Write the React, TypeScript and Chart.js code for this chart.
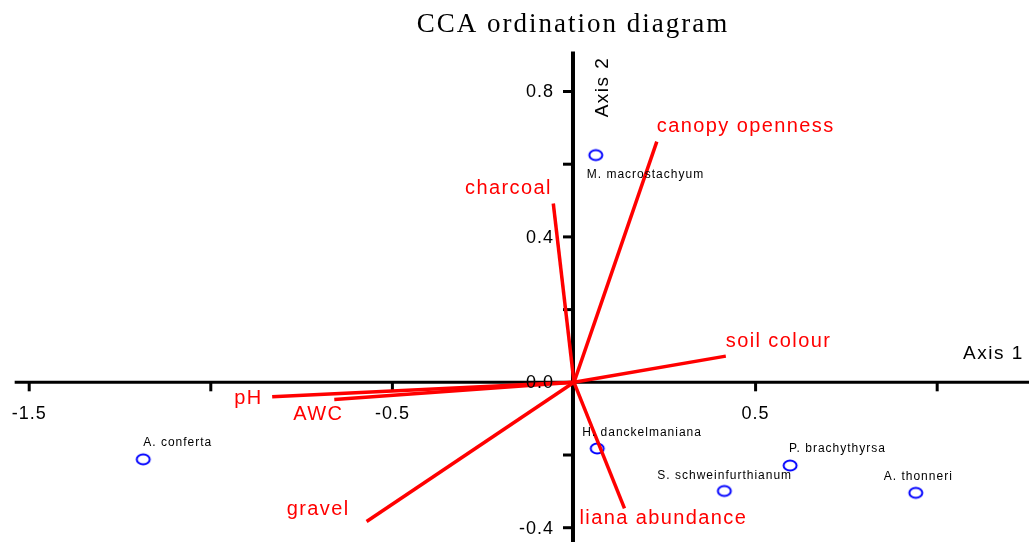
import React, { useEffect, useRef } from "react";
import { Chart, registerables } from "chart.js";

Chart.register(...registerables);

// ---- data ----
const speciesNames = [
  "A. conferta",
  "M. macrostachyum",
  "H. danckelmaniana",
  "S. schweinfurthianum",
  "P. brachythyrsa",
  "A. thonneri",
];
const speciesAxis1 = [-1.186, 0.06, 0.064, 0.414, 0.595, 0.941];
const speciesAxis2 = [-0.212, 0.625, -0.182, -0.299, -0.229, -0.304];

const envNames = ["canopy openness", "charcoal", "soil colour", "liana abundance", "gravel", "pH", "AWC"];
const envAxis1 = [0.228, -0.057, 0.418, 0.139, -0.571, -0.831, -0.66];
const envAxis2 = [0.662, 0.492, 0.072, -0.347, -0.383, -0.04, -0.047];

const xTickValues = [-1.5, -1.0, -0.5, 0.5, 1.0];
const xTickLabels = ["-1.5", "", "-0.5", "0.5", ""];
const yTickValues = [0.8, 0.6, 0.4, 0.2, 0.0, -0.2, -0.4];
const yTickLabels = ["0.8", "", "0.4", "", "0.0", "", "-0.4"];

const titleText = "CCA ordination diagram";
const axis1Title = "Axis 1";
const axis2Title = "Axis 2";

// ---- layout / style (pixel offsets, not data) ----
const X_MIN = -1.5804;
const X_MAX = 1.2528;
const Y_MIN = -0.4393;
const Y_MAX = 1.0517;
const X_AXIS_START = -1.54;
const Y_AXIS_TOP = 0.91;

const speciesLabelOffsets: [number, number][] = [
  [0, -17],
  [-9, 20],
  [-15, -15.5],
  [-67, -15.5],
  [-1, -17],
  [-32, -16],
];
const envLabelOffsets: [number, number, CanvasTextAlign][] = [
  [0, -9.5, "left"],
  [-1.5, -9, "right"],
  [0, -9.5, "left"],
  [-45, 16, "left"],
  [-17, -6.5, "right"],
  [-9.5, 7.5, "right"],
  [9, 21, "right"],
];

function makeEllipse(): HTMLCanvasElement {
  const c = document.createElement("canvas");
  c.width = 18;
  c.height = 15;
  const g = c.getContext("2d")!;
  g.strokeStyle = "#0000ff";
  g.lineWidth = 2;
  g.beginPath();
  g.ellipse(9, 7.5, 6.5, 5, 0, 0, Math.PI * 2);
  g.stroke();
  return c;
}

const axesPlugin = {
  id: "ccaAxes",
  beforeDatasetsDraw(chart: any) {
    const ctx: CanvasRenderingContext2D = chart.ctx;
    const xs = chart.scales.x;
    const ys = chart.scales.y;
    const ox = xs.getPixelForValue(0) - 1;
    const oy = ys.getPixelForValue(0);
    ctx.save();
    ctx.strokeStyle = "#000";
    ctx.fillStyle = "#000";
    ctx.lineWidth = 3;
    ctx.beginPath();
    ctx.moveTo(xs.getPixelForValue(X_AXIS_START), oy);
    ctx.lineTo(chart.width, oy);
    ctx.stroke();
    xTickValues.forEach((v) => {
      const px = xs.getPixelForValue(v);
      ctx.beginPath();
      ctx.moveTo(px, oy);
      ctx.lineTo(px, oy + 9);
      ctx.stroke();
    });
    ctx.lineWidth = 4;
    ctx.beginPath();
    ctx.moveTo(ox, ys.getPixelForValue(Y_AXIS_TOP));
    ctx.lineTo(ox, chart.height);
    ctx.stroke();
    ctx.lineWidth = 3;
    yTickValues.forEach((v) => {
      if (v === 0) return;
      const py = ys.getPixelForValue(v);
      ctx.beginPath();
      ctx.moveTo(ox, py);
      ctx.lineTo(ox - 10, py);
      ctx.stroke();
    });
    ctx.restore();
  },
  afterDatasetsDraw(chart: any) {
    const ctx: CanvasRenderingContext2D = chart.ctx;
    const xs = chart.scales.x;
    const ys = chart.scales.y;
    const ox = xs.getPixelForValue(0) - 1;
    const oy = ys.getPixelForValue(0);
    ctx.save();
    const ls = (v: string) => {
      (ctx as any).letterSpacing = v;
    };
    ctx.fillStyle = "#000";
    ctx.font = '18px "Liberation Sans", Arial, sans-serif';
    ls("1px");
    ctx.textBaseline = "middle";
    ctx.textAlign = "center";
    xTickValues.forEach((v, i) => {
      if (!xTickLabels[i]) return;
      ctx.fillText(xTickLabels[i], xs.getPixelForValue(v), oy + 32);
    });
    ctx.textAlign = "right";
    yTickValues.forEach((v, i) => {
      if (!yTickLabels[i]) return;
      ctx.fillText(yTickLabels[i], ox - 19, ys.getPixelForValue(v) + 1);
    });
    ctx.font = '19px "Liberation Sans", Arial, sans-serif';
    ls("1.5px");
    ctx.textBaseline = "alphabetic";
    ctx.textAlign = "left";
    ctx.fillText(axis1Title, 963, oy - 23);
    ctx.save();
    ctx.translate(ox + 35, ys.getPixelForValue(0.729));
    ctx.rotate(-Math.PI / 2);
    ctx.fillText(axis2Title, 0, 0);
    ctx.restore();
    ctx.font = '12px "Liberation Sans", Arial, sans-serif';
    ls("1px");
    ctx.textBaseline = "middle";
    ctx.textAlign = "left";
    speciesNames.forEach((n, i) => {
      const px = xs.getPixelForValue(speciesAxis1[i]);
      const py = ys.getPixelForValue(speciesAxis2[i]);
      const [dx, dy] = speciesLabelOffsets[i];
      ctx.fillText(n, px + dx, py + dy);
    });
    ctx.fillStyle = "#ff0000";
    ctx.font = '20px "Liberation Sans", Arial, sans-serif';
    ls("1.4px");
    ctx.textBaseline = "alphabetic";
    envNames.forEach((n, i) => {
      const px = xs.getPixelForValue(envAxis1[i]);
      const py = ys.getPixelForValue(envAxis2[i]);
      const [dx, dy, al] = envLabelOffsets[i];
      ctx.textAlign = al;
      ctx.fillText(n, px + dx, py + dy);
    });
    ctx.fillStyle = "#000";
    ctx.font = '27px "Liberation Serif", "Times New Roman", serif';
    ls("2px");
    ctx.textAlign = "center";
    ctx.fillText(titleText, 573, 32);
    ctx.restore();
  },
};

export default function App() {
  const ref = useRef<HTMLCanvasElement | null>(null);
  useEffect(() => {
    if (!ref.current) return;
    const ellipse = makeEllipse();
    const envDatasets = envNames.map((n, i) => ({
      label: n,
      data: [
        { x: 0, y: 0 },
        { x: envAxis1[i], y: envAxis2[i] },
      ],
      showLine: true,
      borderColor: "#ff0000",
      backgroundColor: "#ff0000",
      borderWidth: 3.5,
      pointRadius: 0,
      pointHoverRadius: 0,
      clip: false as any,
    }));
    const chart = new Chart(ref.current, {
      type: "scatter",
      data: {
        datasets: [
          ...envDatasets,
          {
            label: "species",
            data: speciesNames.map((_, i) => ({ x: speciesAxis1[i], y: speciesAxis2[i] })),
            pointStyle: ellipse as any,
            pointRadius: 7,
            clip: false as any,
          } as any,
        ],
      },
      options: {
        animation: false,
        responsive: false,
        maintainAspectRatio: false,
        layout: { padding: 0, autoPadding: false } as any,
        plugins: { legend: { display: false }, tooltip: { enabled: false }, title: { display: false } },
        scales: {
          x: { type: "linear", min: X_MIN, max: X_MAX, display: false },
          y: { type: "linear", min: Y_MIN, max: Y_MAX, display: false },
        },
      },
      plugins: [axesPlugin],
    });
    return () => chart.destroy();
  }, []);
  return (
    <div style={{ position: "fixed", left: 0, top: 0, width: 1029, height: 542, background: "#fff" }}>
      <canvas ref={ref} width={1029} height={542} style={{ display: "block", width: 1029, height: 542 }} />
    </div>
  );
}
